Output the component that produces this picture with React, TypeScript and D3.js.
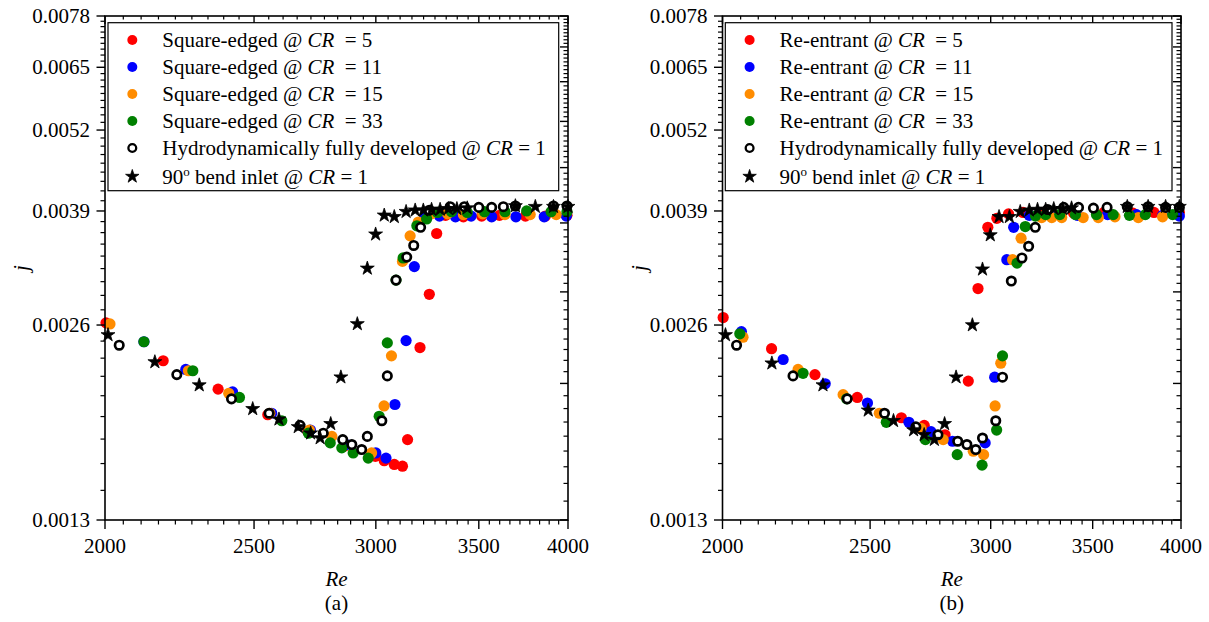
import React from "react";
import * as d3 from "d3";

type Pt = [number, number];

const reTicks = [2000, 2500, 3000, 3500, 4000];
const jTicks = [0.0013, 0.0026, 0.0039, 0.0052, 0.0065, 0.0078];
// the mirrored right-hand axis carries its own, evenly spaced ticks
const jRightTicks = d3.range(9).map((k) => 0.0013 + (k * (0.0078 - 0.0013)) / 8);

// (a) square-edged inlets
const aRed: Pt[] = [
  [2003, 0.00262], [2182, 0.00229], [2369, 0.00207], [2552, 0.00189], [2710, 0.00178],
  [2860, 0.00169], [2998, 0.00163], [3038, 0.001605], [3084, 0.001584], [3122, 0.001574],
  [3146, 0.00173], [3205, 0.0024], [3250, 0.0029], [3286, 0.0036],
  [3330, 0.00384], [3420, 0.00382], [3515, 0.00383], [3610, 0.00384], [3753, 0.00383], [3867, 0.00383], [3994, 0.00384],
];
const aBlue: Pt[] = [
  [2120, 0.00245], [2257, 0.00222], [2421, 0.00205], [2567, 0.0019], [2720, 0.00179],
  [2870, 0.0017], [3000, 0.00165], [3046, 0.00162], [3087, 0.00196], [3139, 0.00246], [3178, 0.0032],
  [3230, 0.00382], [3300, 0.00383], [3380, 0.00382], [3460, 0.00383], [3568, 0.00382], [3700, 0.00382], [3860, 0.00382], [3990, 0.00383],
];
const aOrange: Pt[] = [
  [2015, 0.00261], [2266, 0.00221], [2407, 0.00204], [2560, 0.0019], [2716, 0.00179],
  [2809, 0.00175], [2981, 0.00165], [3037, 0.00195], [3071, 0.00233], [3122, 0.00326], [3158, 0.00357], [3197, 0.00375],
  [3260, 0.00386], [3340, 0.00386], [3420, 0.00385], [3520, 0.00386], [3640, 0.00385], [3780, 0.00385], [3930, 0.00385],
];
const aGreen: Pt[] = [
  [2120, 0.00245], [2281, 0.00221], [2446, 0.00201], [2606, 0.00185], [2712, 0.00177],
  [2802, 0.00171], [2851, 0.00168], [2900, 0.00165], [2966, 0.00162], [3015, 0.00188], [3052, 0.00244],
  [3092, 0.00305], [3125, 0.0033], [3190, 0.0037], [3237, 0.00379],
  [3290, 0.00388], [3360, 0.00389], [3440, 0.00388], [3530, 0.00389], [3640, 0.00389], [3760, 0.0039], [3900, 0.00389], [3994, 0.00389],
];
const aOpen: Pt[] = [
  [2043, 0.00242], [2227, 0.00218], [2417, 0.002], [2557, 0.0019], [2678, 0.00182], [2773, 0.00177],
  [2855, 0.00173], [2894, 0.0017], [2937, 0.00167], [2962, 0.00175], [3027, 0.00185], [3052, 0.00217],
  [3092, 0.00305], [3142, 0.00331], [3175, 0.00345], [3208, 0.00368],
  [3250, 0.00391], [3353, 0.00396], [3425, 0.00396], [3500, 0.00395], [3568, 0.00395], [3631, 0.00396], [3697, 0.00397], [3914, 0.00397], [3994, 0.00397],
];
const aStar: Pt[] = [
  [2009, 0.00251], [2155, 0.00228], [2303, 0.0021], [2495, 0.00193], [2595, 0.00186], [2671, 0.00181],
  [2721, 0.00177], [2760, 0.00174], [2804, 0.00183], [2847, 0.00216], [2918, 0.00261], [2962, 0.00318],
  [2999, 0.00359], [3038, 0.00384], [3084, 0.00382], [3139, 0.00389],
  [3182, 0.00391], [3221, 0.00391], [3261, 0.00392], [3303, 0.00392], [3344, 0.00393], [3387, 0.00393], [3440, 0.00394],
  [3697, 0.00397], [3809, 0.00396], [3914, 0.00396], [4000, 0.00396],
];

// (b) re-entrant inlets
const bRed: Pt[] = [
  [2002, 0.00267], [2154, 0.00239], [2300, 0.00218], [2452, 0.00201], [2621, 0.00187], [2713, 0.00182],
  [2800, 0.00176], [2900, 0.00213], [2943, 0.00296], [2987, 0.00368], [3028, 0.0038], [3082, 0.00386],
  [3150, 0.00388], [3250, 0.00388], [3400, 0.00387], [3560, 0.00388], [3720, 0.00387], [3840, 0.00388], [3990, 0.00388],
];
const bBlue: Pt[] = [
  [2058, 0.00254], [2192, 0.0023], [2336, 0.00211], [2490, 0.00197], [2651, 0.00184], [2741, 0.00178],
  [2832, 0.00172], [2975, 0.00171], [3018, 0.00216], [3074, 0.00328], [3106, 0.00368],
  [3180, 0.00384], [3280, 0.00385], [3420, 0.00384], [3580, 0.00385], [3740, 0.00385], [3890, 0.00384], [3990, 0.00383],
];
const bOrange: Pt[] = [
  [2063, 0.00249], [2242, 0.00222], [2400, 0.00203], [2535, 0.0019], [2700, 0.0018], [2792, 0.00173],
  [2922, 0.00166], [2968, 0.00164], [3020, 0.00195], [3046, 0.00227], [3101, 0.00328], [3141, 0.00354],
  [3240, 0.00381], [3290, 0.00381], [3340, 0.00381], [3450, 0.00381], [3530, 0.00381], [3620, 0.00382], [3750, 0.00381], [3890, 0.00382],
];
const bGreen: Pt[] = [
  [2053, 0.00252], [2259, 0.00219], [2413, 0.002], [2562, 0.00184], [2718, 0.00173], [2852, 0.00164],
  [2961, 0.00158], [3027, 0.00179], [3054, 0.00233], [3122, 0.00324], [3161, 0.00369],
  [3210, 0.00383], [3260, 0.00385], [3330, 0.00385], [3410, 0.00385], [3520, 0.00385], [3610, 0.00385], [3700, 0.00384], [3790, 0.00385], [3950, 0.00385],
];
const bOpen: Pt[] = [
  [2043, 0.00242], [2225, 0.00217], [2415, 0.002], [2555, 0.0019], [2679, 0.00181], [2770, 0.00176],
  [2854, 0.00172], [2894, 0.0017], [2933, 0.00167], [2963, 0.00174], [3023, 0.00185], [3054, 0.00216],
  [3095, 0.00304], [3145, 0.0033], [3177, 0.00344], [3209, 0.00368],
  [3270, 0.00392], [3350, 0.00395], [3426, 0.00395], [3504, 0.00394], [3577, 0.00395], [3688, 0.00396], [3806, 0.00396], [3908, 0.00395], [3990, 0.00395],
];
const bStar: Pt[] = [
  [2009, 0.00251], [2155, 0.00227], [2328, 0.0021], [2493, 0.00192], [2590, 0.00185], [2670, 0.00179],
  [2713, 0.00176], [2755, 0.00173], [2798, 0.00183], [2847, 0.00216], [2918, 0.0026], [2963, 0.00317],
  [2998, 0.00358], [3038, 0.00382], [3086, 0.00382], [3137, 0.00389],
  [3180, 0.00391], [3220, 0.00392], [3260, 0.00392], [3300, 0.00393], [3345, 0.00393], [3390, 0.00394],
  [3688, 0.00396], [3806, 0.00396], [3908, 0.00396], [3990, 0.00396],
];

const crLabels = ["5", "11", "15", "33"];
const FONT = "'Liberation Serif', 'Times New Roman', serif";
const RED = "#ff0000";
const BLUE = "#0000ff";
const ORANGE = "#ff8c00";
const GREEN = "#008000";

type Kind = "fill" | "open" | "star";
interface Series {
  pts: Pt[];
  kind: Kind;
  color: string;
}

function minorTicks(major: number[], n = 9) {
  const out: number[] = [];
  for (let i = 0; i < major.length - 1; i++) {
    const step = (major[i + 1] - major[i]) / n;
    for (let k = 1; k < n; k++) out.push(major[i] + k * step);
  }
  return out;
}

const starPath = d3.symbol(d3.symbolStar, 60)() as string;
const legendStar = d3.symbol(d3.symbolStar, 56)() as string;

function Marker({ kind, color, cx, cy, legend }: { kind: Kind; color: string; cx: number; cy: number; legend?: boolean }) {
  if (kind === "fill") return <circle cx={cx} cy={cy} r={legend ? 5 : 5.6} fill={color} />;
  if (kind === "open")
    return <circle cx={cx} cy={cy} r={legend ? 3.9 : 4.2} fill="#fff" stroke="#000" strokeWidth={legend ? 2.3 : 2.7} />;
  return (
    <path
      d={legend ? legendStar : starPath}
      transform={`translate(${cx},${cy})`}
      fill="#000"
      stroke="#000"
      strokeWidth={0.8}
      strokeLinejoin="round"
    />
  );
}

function Panel({
  left,
  right,
  series,
  prefix,
  tag,
  legendX,
  legendW,
}: {
  left: number;
  right: number;
  series: Series[];
  prefix: string;
  tag: string;
  legendX: number;
  legendW: number;
}) {
  const top = 16;
  const bottom = 520;
  const x = d3.scaleLog().domain([2000, 4000]).range([left, right]);
  const y = d3.scaleLog().domain([0.0013, 0.0078]).range([bottom, top]);
  const xMinor = minorTicks(reTicks);
  const yMinor = minorTicks(jTicks);
  const yRightMinor = minorTicks(jRightTicks);
  const legendRows = [40, 67, 94, 121, 148, 176.5];

  return (
    <g fontFamily={FONT} fontSize={21}>
      {/* data */}
      {series.map((s, si) => (
        <g key={si}>
          {s.pts.map((p, i) => (
            <Marker key={i} kind={s.kind} color={s.color} cx={x(p[0])} cy={y(p[1])} />
          ))}
        </g>
      ))}

      {/* frame */}
      <rect x={left} y={top} width={right - left} height={bottom - top} fill="none" stroke="#000" strokeWidth={1.6} />

      {/* bottom axis outward ticks, top axis inward ticks */}
      {reTicks.map((t) => (
        <g key={t}>
          <line x1={x(t)} x2={x(t)} y1={bottom} y2={bottom + 9} stroke="#000" strokeWidth={1.4} />
          <line x1={x(t)} x2={x(t)} y1={top} y2={top + 8} stroke="#000" strokeWidth={1.4} />
          <text x={x(t)} y={553} textAnchor="middle">
            {t}
          </text>
        </g>
      ))}
      {xMinor.map((t, i) => (
        <g key={i}>
          <line x1={x(t)} x2={x(t)} y1={bottom} y2={bottom + 4.5} stroke="#000" strokeWidth={1.2} />
          <line x1={x(t)} x2={x(t)} y1={top} y2={top + 3.5} stroke="#000" strokeWidth={1.2} />
        </g>
      ))}

      {/* left axis outward ticks */}
      {jTicks.map((t) => (
        <g key={t}>
          <line x1={left - 8.5} x2={left} y1={y(t)} y2={y(t)} stroke="#000" strokeWidth={1.4} />
          <text x={left - 15} y={y(t) + 7} textAnchor="end">
            {t.toFixed(4)}
          </text>
        </g>
      ))}
      {yMinor.map((t, i) => (
        <line key={i} x1={left - 4.5} x2={left} y1={y(t)} y2={y(t)} stroke="#000" strokeWidth={1.2} />
      ))}

      {/* right axis inward ticks */}
      {jRightTicks.map((t, i) => (
        <line key={i} x1={right - 8} x2={right} y1={y(t)} y2={y(t)} stroke="#000" strokeWidth={1.4} />
      ))}
      {yRightMinor.map((t, i) => (
        <line key={i} x1={right - 4.5} x2={right} y1={y(t)} y2={y(t)} stroke="#000" strokeWidth={1.2} />
      ))}

      {/* titles */}
      <text x={(left + right) / 2} y={586} textAnchor="middle" fontStyle="italic">
        Re
      </text>
      <text x={(left + right) / 2} y={610} textAnchor="middle">
        {tag}
      </text>
      <text transform={`translate(${left - 77},268) rotate(-90)`} textAnchor="middle" fontStyle="italic">
        j
      </text>

      {/* legend */}
      <rect x={legendX} y={22.7} width={legendW} height={168} fill="#fff" stroke="#000" strokeWidth={1.2} />
      {series.map((s, i) => (
        <g key={i}>
          <Marker kind={s.kind} color={s.color} cx={legendX + 24.3} cy={legendRows[i]} legend />
          <text x={legendX + 54.3} y={legendRows[i] + 7}>
            {i < 4 ? (
              <>
                {`${prefix} @ `}
                <tspan fontStyle="italic">CR</tspan>
                <tspan dx={5}>{` = ${crLabels[i]}`}</tspan>
              </>
            ) : i === 4 ? (
              <>
                {"Hydrodynamically fully developed @ "}
                <tspan fontStyle="italic">CR</tspan>
                {" = 1"}
              </>
            ) : (
              <>
                {"90"}
                <tspan dy={-8} fontSize={13}>
                  o
                </tspan>
                <tspan dy={8}>{" bend inlet @ "}</tspan>
                <tspan fontStyle="italic">CR</tspan>
                {" = 1"}
              </>
            )}
          </text>
        </g>
      ))}
    </g>
  );
}

export default function App() {
  const seriesA: Series[] = [
    { pts: aRed, kind: "fill", color: RED },
    { pts: aBlue, kind: "fill", color: BLUE },
    { pts: aOrange, kind: "fill", color: ORANGE },
    { pts: aGreen, kind: "fill", color: GREEN },
    { pts: aOpen, kind: "open", color: "#000" },
    { pts: aStar, kind: "star", color: "#000" },
  ];
  const seriesB: Series[] = [
    { pts: bRed, kind: "fill", color: RED },
    { pts: bBlue, kind: "fill", color: BLUE },
    { pts: bOrange, kind: "fill", color: ORANGE },
    { pts: bGreen, kind: "fill", color: GREEN },
    { pts: bOpen, kind: "open", color: "#000" },
    { pts: bStar, kind: "star", color: "#000" },
  ];
  return (
    <svg
      width={1209}
      height={622}
      viewBox="0 0 1209 622"
      style={{ position: "absolute", left: 0, top: 0, background: "#fff" }}
    >
      <Panel left={105} right={568} series={seriesA} prefix="Square-edged" tag="(a)" legendX={108} legendW={450.7} />
      <Panel left={722.5} right={1181} series={seriesB} prefix="Re-entrant" tag="(b)" legendX={725.3} legendW={446.7} />
    </svg>
  );
}
